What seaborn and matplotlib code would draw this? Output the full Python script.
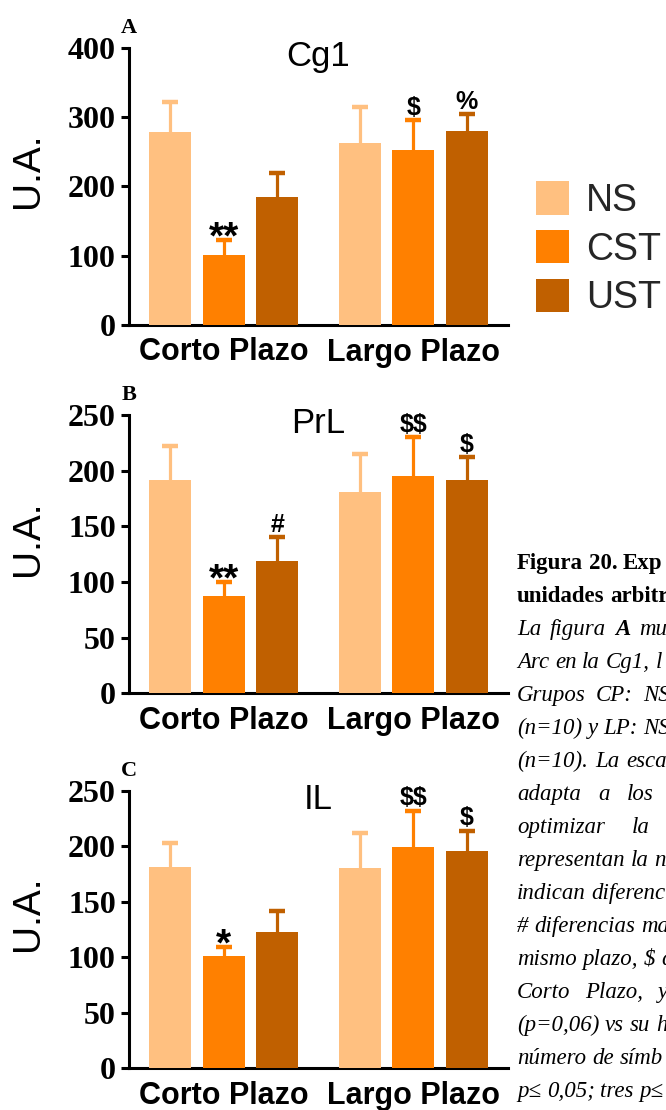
import numpy as np
import pandas as pd
import matplotlib
matplotlib.use("Agg")
import matplotlib.pyplot as plt
import seaborn as sns
from matplotlib.patches import Patch

# ---------------- data ----------------
periods = ["Corto Plazo", "Largo Plazo"]
groups = ["NS", "CST", "UST"]
colors = ["#FFC080", "#FF8000", "#C06000"]

# order: CP-NS, CP-CST, CP-UST, LP-NS, LP-CST, LP-UST
cg1_mean = [278, 101, 184, 263, 253, 280]
cg1_sem = [44, 21, 35, 51, 42, 24]
prl_mean = [192, 87, 119, 181, 195, 192]
prl_sem = [30, 13, 21, 34, 35, 20]
il_mean = [181.5, 101, 123, 180, 199.5, 196]
il_sem = [21, 8, 19, 32, 32.5, 18]

cg1_marks = ["", "**", "", "", "$", "%"]
prl_marks = ["", "**", "#", "", "$$", "$"]
il_marks = ["", "*", "", "", "$$", "$"]

panel_letters = ["A", "B", "C"]
titles = ["Cg1", "PrL", "IL"]
y_max = [400, 250, 250]
y_step = [100, 50, 50]
ylabel_text = "U.A."

caption_lines = [
    "Figura 20. Exp",
    "unidades arbitr",
    "La figura A mu",
    "Arc en la Cg1, l",
    "Grupos CP: NS",
    "(n=10) y LP: NS",
    "(n=10). La esca",
    "adapta a los",
    "optimizar la",
    "representan la n",
    "indican diferenc",
    "# diferencias ma",
    "mismo plazo, $ d",
    "Corto Plazo, y",
    "(p=0,06) vs su h",
    "número de símb",
    "p≤ 0,05; tres p≤",
]
caption_bold_lines = {0, 1}
caption_bold_words = {(2, "A")}

panels = [
    (cg1_mean, cg1_sem, cg1_marks),
    (prl_mean, prl_sem, prl_marks),
    (il_mean, il_sem, il_marks),
]

# ---------------- layout / style ----------------
# right end (px) reached by each caption line in the justified column
caption_right = [None, None, 667, 662, 670, 670, 667, 654, 650,
                 None, None, None, None, 668, None, None, None]

sns.set_theme(style="ticks")
plt.rcParams["font.family"] = ["Liberation Sans", "DejaVu Sans"]
plt.rcParams["axes.linewidth"] = 2.2

W, H = 666, 1110
fig = plt.figure(figsize=(W / 100, H / 100), dpi=100)

ax_left = 129 / W
ax_width = 379 / W
ax_rects = [(325, 277.3), (693.3, 278.3), (1068.3, 277.6)]  # (bottom px, height px)

SERIF = ["Liberation Serif", "DejaVu Serif"]
glyph_center = {"*": 0.575, "$": 0.35, "#": 0.35, "%": 0.36}

for i, (means, sems, marks) in enumerate(panels):
    bpx, hpx = ax_rects[i]
    ax = fig.add_axes([ax_left, 1 - bpx / H, ax_width, hpx / H])
    df = pd.DataFrame({
        "period": np.repeat(periods, len(groups)),
        "group": np.tile(groups, len(periods)),
        "value": means,
        "sem": sems,
    })
    sns.barplot(data=df, x="period", y="value", hue="group", order=periods,
                hue_order=groups, palette=colors, saturation=1, width=0.846,
                gap=0.213, errorbar=None, linewidth=0, legend=False, ax=ax,
                zorder=3)

    bars = sorted(ax.patches, key=lambda p: p.get_x())
    for bar, s, m in zip(bars, sems, marks):
        xc = bar.get_x() + bar.get_width() / 2
        top = bar.get_height()
        col = bar.get_facecolor()
        _, caps, _ = ax.errorbar([xc], [top], yerr=[[0], [s]], fmt="none",
                                 ecolor=col, elinewidth=2.3, capsize=6,
                                 capthick=3.2, zorder=2)
        for cl in caps:
            if cl.get_ydata()[0] <= top + 1e-9:
                cl.set_visible(False)
        if m:
            fs = 28 if m[0] == "*" else 18
            fs_px = fs * 100 / 72
            gap_px = 14
            off_px = gap_px - glyph_center[m[0]] * fs_px
            ax.annotate(m, xy=(xc, top + s), xytext=(0, off_px * 0.72),
                        textcoords="offset points", ha="center", va="baseline",
                        fontsize=fs, fontweight="bold", color="black",
                        annotation_clip=False, zorder=5, parse_math=False)

    ax.set_xlim(-0.5, 1.5)
    ax.set_ylim(0, y_max[i])
    ax.set_yticks(np.arange(0, y_max[i] + 1, y_step[i]))
    ax.set_xlabel("")
    sns.despine(ax=ax)
    ax.spines["left"].set_color("black")
    ax.spines["bottom"].set_color("black")
    ax.tick_params(axis="y", direction="out", length=5.5, width=2.2, pad=4,
                   colors="black")
    ax.tick_params(axis="x", length=0, pad=9)
    for lab in ax.get_yticklabels():
        lab.set_fontfamily(SERIF)
        lab.set_fontweight("bold")
        lab.set_fontsize(23)
    for lab in ax.get_xticklabels():
        lab.set_fontweight("bold")
        lab.set_fontsize(22)
        lab.set_color("black")

    ax.set_ylabel(ylabel_text, fontsize=28, color="black")
    ax.yaxis.label.set(rotation_mode="default", va="center", ha="center")
    ax.yaxis.set_label_coords((28 - 129) / 379, 0.5 + 16 / hpx)

    ax.text(0.5, 1 - 18 / hpx, titles[i], transform=ax.transAxes,
            ha="center", va="baseline", fontsize=25, color="black")
    ax.text(0.0, 1 + 15 / hpx, panel_letters[i], transform=ax.transAxes,
            ha="center", va="baseline", fontsize=16, fontweight="bold",
            family=SERIF, color="black")

# legend
handles = [Patch(facecolor=c, edgecolor="none", label=g) for c, g in zip(colors, groups)]
fig.legend(handles=handles, loc="upper left", bbox_to_anchor=(536 / W, 1 - 181 / H),
           frameon=False, fontsize=27, handlelength=0.88, handleheight=1.0,
           handletextpad=0.45, labelspacing=0.3, borderpad=0, borderaxespad=0)

# caption (justified column, cut by the figure edge as in the page layout)
cap_x = 517
cap_fs = 16.5
renderer = fig.canvas.get_renderer()
for k, line in enumerate(caption_lines):
    y = 1 - (569 + 33.0 * k) / H
    bold_line = k in caption_bold_lines
    style = "normal" if bold_line else "italic"
    words = line.split(" ")
    texts = []
    for w in words:
        wt = "bold" if (bold_line or (k, w) in caption_bold_words) else "normal"
        t = fig.text(0, y, w, ha="left", va="baseline", fontsize=cap_fs,
                     family=SERIF, style=style, weight=wt, color="black",
                     parse_math=False)
        texts.append(t)
    widths = [t.get_window_extent(renderer).width for t in texts]
    sp = fig.text(0, y, "a a", fontsize=cap_fs, family=SERIF, style=style)
    sp2 = fig.text(0, y, "aa", fontsize=cap_fs, family=SERIF, style=style)
    space_w = sp.get_window_extent(renderer).width - sp2.get_window_extent(renderer).width
    sp.remove()
    sp2.remove()
    gap = space_w
    target = caption_right[k]
    if target is not None and len(words) > 1:
        gap = max((target - cap_x - sum(widths)) / (len(words) - 1), 0.7 * space_w)
    x = cap_x
    for t, wdt in zip(texts, widths):
        t.set_x(x / W)
        x += wdt + gap

fig.savefig("out.png", dpi=100)
